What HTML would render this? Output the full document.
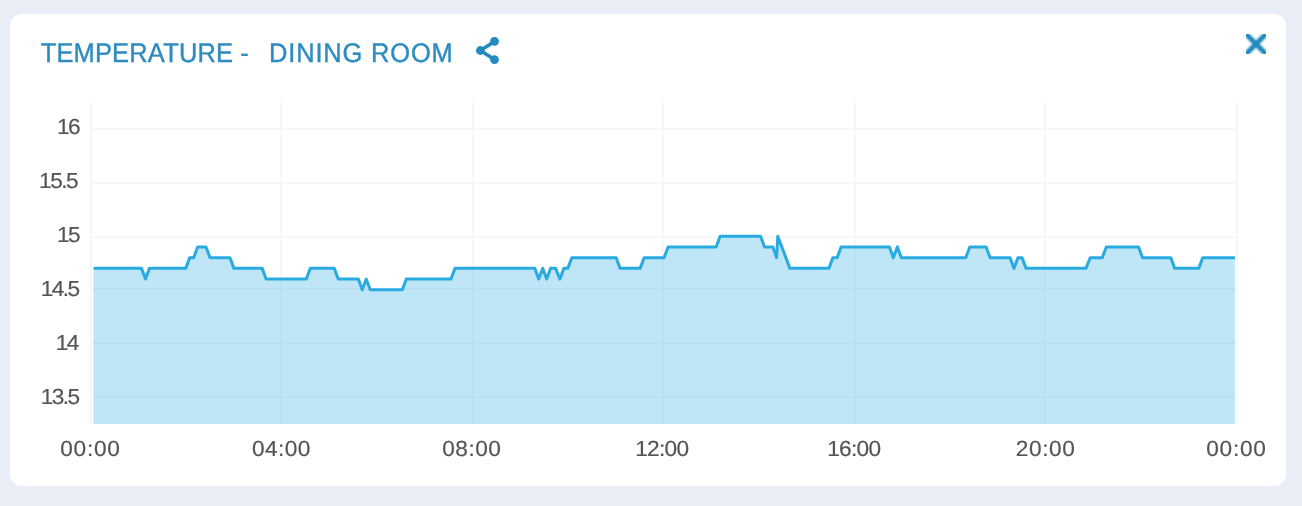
<!DOCTYPE html>
<html lang="en">
<head>
<meta charset="utf-8">
<title>Temperature - Dining Room</title>
<style>
html,body,h1{margin:0;padding:0;}
h1{font-size:inherit;font-weight:normal;}
body{width:1302px;height:506px;background:#e9eef6;position:relative;overflow:hidden;font-family:"Liberation Sans",sans-serif;}
.card{position:absolute;left:10px;top:14px;width:1276px;height:472px;background:#fff;border-radius:12px;}
.t,.yl,.xl{display:block;position:absolute;left:0;top:0;white-space:nowrap;height:32px;line-height:32px;text-rendering:geometricPrecision;transform-origin:0 50%;}
.t{font-size:26.8px;color:#2d8bc0;-webkit-text-stroke:0.4px #2d8bc0;}
.yl,.xl{font-size:21.8px;color:#555;-webkit-text-stroke:0.2px #555;}
svg{position:absolute;left:0;top:0;}
</style>
</head>
<body>
<div class="card"></div>
<h1 class="title">
<span class="t" id="t1" style="letter-spacing:0.20px;transform:translate(40.64px,37.30px) scaleX(0.95)">TEMPERATURE</span>
<span class="t" id="t2" style="letter-spacing:0.00px;transform:translate(240.16px,37.30px) scaleX(0.95)">-</span>
<span class="t" id="t3" style="letter-spacing:0.89px;transform:translate(269.00px,37.30px) scaleX(0.95)">DINING ROOM</span>
</h1>
<div class="axis axis-y">
<div class="yl" id="y0" style="letter-spacing:-1.50px;transform:translate(57.02px,110.95px) scaleX(1.04)">16</div>
<div class="yl" id="y1" style="letter-spacing:-1.45px;transform:translate(39.06px,164.95px) scaleX(1.04)">15.5</div>
<div class="yl" id="y2" style="letter-spacing:-1.50px;transform:translate(57.02px,218.95px) scaleX(1.04)">15</div>
<div class="yl" id="y3" style="letter-spacing:-1.50px;transform:translate(40.70px,272.95px) scaleX(1.04)">14.5</div>
<div class="yl" id="y4" style="letter-spacing:-1.50px;transform:translate(55.73px,326.95px) scaleX(1.04)">14</div>
<div class="yl" id="y5" style="letter-spacing:-1.50px;transform:translate(40.70px,380.75px) scaleX(1.04)">13.5</div>
</div>
<div class="axis axis-x">
<div class="xl" id="x0" style="letter-spacing:0.72px;transform:translate(60.20px,433.15px) scaleX(1.04)">00:00</div>
<div class="xl" id="x1" style="letter-spacing:0.37px;transform:translate(252.09px,433.15px) scaleX(1.04)">04:00</div>
<div class="xl" id="x2" style="letter-spacing:0.48px;transform:translate(442.20px,433.15px) scaleX(1.04)">08:00</div>
<div class="xl" id="x3" style="letter-spacing:-0.68px;transform:translate(635.13px,433.15px) scaleX(1.04)">12:00</div>
<div class="xl" id="x4" style="letter-spacing:-0.68px;transform:translate(827.13px,433.15px) scaleX(1.04)">16:00</div>
<div class="xl" id="x5" style="letter-spacing:0.58px;transform:translate(1015.74px,433.15px) scaleX(1.04)">20:00</div>
<div class="xl" id="x6" style="letter-spacing:0.72px;transform:translate(1206.20px,433.15px) scaleX(1.04)">00:00</div>
</div>
<svg width="1302" height="506" viewBox="0 0 1302 506">
<defs><filter id="bl" filterUnits="userSpaceOnUse" x="-10" y="-10" width="40" height="40"><feGaussianBlur stdDeviation="0.8"/></filter><clipPath id="cx"><rect x="0" y="0" width="20" height="20"/></clipPath></defs>
<g id="share" fill="#258bbf" stroke="#258bbf">
<path d="M494.5 41.4 L480.4 50.5 L494.5 59.6" fill="none" stroke-width="3.6" stroke-linejoin="round"/>
<circle cx="480.4" cy="50.5" r="4.4" stroke="none"/>
<circle cx="494.5" cy="41.4" r="4.4" stroke="none"/>
<circle cx="494.5" cy="59.6" r="4.4" stroke="none"/>
</g>
<g id="close" transform="translate(1246 34)" fill="#258bbf">
<g clip-path="url(#cx)" fill="none" stroke="#258bbf"><path d="M-6 -6 L26 26 M26 -6 L-6 26" stroke-width="4.8" filter="url(#bl)"/><path d="M-6 -6 L26 26 M26 -6 L-6 26" stroke-width="3.6" stroke-opacity="0.6"/><rect x="7.5" y="7.5" width="5" height="5" fill="#258bbf" stroke="none" fill-opacity="0.6" transform="rotate(0 10 10)"/></g>
</g>
<g id="grid" fill="rgba(0,0,0,0.035)"><path d="M90 102h2v322h-2zM280 102h2v322h-2zM472 102h2v322h-2zM662 102h2v322h-2zM854 102h2v322h-2zM1044 102h2v322h-2zM1236 102h2v322h-2zM91 128h1146v2h-1146zM91 182h1146v2h-1146zM91 236h1146v2h-1146zM91 288h1146v2h-1146zM91 342h1146v2h-1146zM91 396h1146v2h-1146z"/></g>
<path id="area" d="M93.5,424 L93.5,268.37 L141.5,268.37 L145.5,279.10 L149.4,268.37 L185.7,268.37 L189.7,257.63 L193.7,257.63 L197.7,246.90 L206.0,246.90 L210.0,257.63 L229.9,257.63 L233.9,268.37 L262.2,268.37 L266.1,279.10 L306.3,279.10 L310.3,268.37 L334.3,268.37 L338.2,279.10 L358.3,279.10 L362.2,289.83 L366.2,279.10 L370.2,289.83 L402.4,289.83 L406.3,279.10 L450.9,279.10 L455.0,268.37 L534.8,268.37 L538.7,279.10 L542.7,268.37 L546.7,279.10 L550.6,268.37 L555.6,268.37 L559.9,279.10 L563.9,268.37 L567.8,268.37 L571.9,257.63 L616.1,257.63 L620.1,268.37 L640.1,268.37 L644.2,257.63 L664.1,257.63 L668.1,246.90 L716.1,246.90 L720.1,236.17 L760.6,236.17 L764.5,246.90 L772.9,246.90 L776.6,257.63 L777.8,236.17 L789.9,268.37 L828.9,268.37 L832.9,257.63 L837.2,257.63 L841.1,246.90 L889.4,246.90 L893.3,257.63 L897.4,246.90 L901.3,257.63 L965.8,257.63 L969.8,246.90 L986.1,246.90 L990.1,257.63 L1010.0,257.63 L1014.0,268.37 L1018.0,257.63 L1022.0,257.63 L1026.1,268.37 L1085.9,268.37 L1090.3,257.63 L1102.3,257.63 L1106.3,246.90 L1138.6,246.90 L1142.5,257.63 L1170.8,257.63 L1174.7,268.37 L1198.8,268.37 L1202.7,257.63 L1234.9,257.63 L1234.9,424 Z" fill="#29abe2" fill-opacity="0.3"/>
<polyline id="line" points="93.5,268.37 141.5,268.37 145.5,279.10 149.4,268.37 185.7,268.37 189.7,257.63 193.7,257.63 197.7,246.90 206.0,246.90 210.0,257.63 229.9,257.63 233.9,268.37 262.2,268.37 266.1,279.10 306.3,279.10 310.3,268.37 334.3,268.37 338.2,279.10 358.3,279.10 362.2,289.83 366.2,279.10 370.2,289.83 402.4,289.83 406.3,279.10 450.9,279.10 455.0,268.37 534.8,268.37 538.7,279.10 542.7,268.37 546.7,279.10 550.6,268.37 555.6,268.37 559.9,279.10 563.9,268.37 567.8,268.37 571.9,257.63 616.1,257.63 620.1,268.37 640.1,268.37 644.2,257.63 664.1,257.63 668.1,246.90 716.1,246.90 720.1,236.17 760.6,236.17 764.5,246.90 772.9,246.90 776.6,257.63 777.8,236.17 789.9,268.37 828.9,268.37 832.9,257.63 837.2,257.63 841.1,246.90 889.4,246.90 893.3,257.63 897.4,246.90 901.3,257.63 965.8,257.63 969.8,246.90 986.1,246.90 990.1,257.63 1010.0,257.63 1014.0,268.37 1018.0,257.63 1022.0,257.63 1026.1,268.37 1085.9,268.37 1090.3,257.63 1102.3,257.63 1106.3,246.90 1138.6,246.90 1142.5,257.63 1170.8,257.63 1174.7,268.37 1198.8,268.37 1202.7,257.63 1234.9,257.63" fill="none" stroke="#29abe2" stroke-width="3" stroke-linejoin="round" stroke-linecap="butt"/>
</svg>
</body>
</html>
